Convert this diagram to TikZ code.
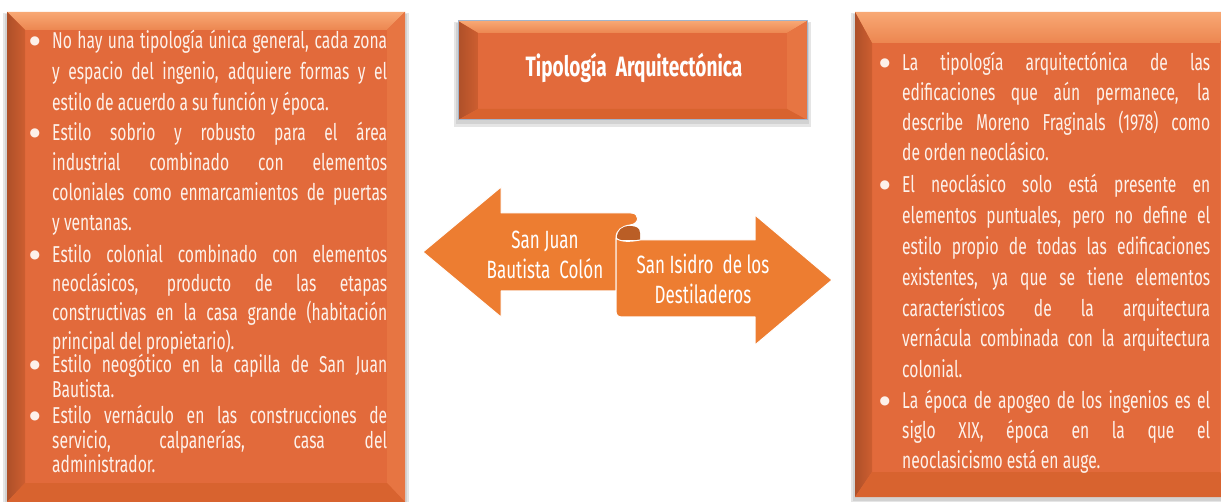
\documentclass[tikz,border=0pt]{standalone}
\usepackage{fontspec}
\setmainfont{Fira Sans}[FakeStretch=0.68]
\newfontfamily\bltfont{DejaVu Sans}
\usetikzlibrary{positioning}
\definecolor{boxface}{HTML}{E26A3B}
\definecolor{bevtop}{HTML}{EC8650}
\definecolor{bevtoplight}{HTML}{F8A874}
\definecolor{bevleft}{HTML}{CD5E30}
\definecolor{bevright}{HTML}{E77542}
\definecolor{bevbottom}{HTML}{D8632F}
\definecolor{boxtext}{HTML}{FDF1EA}
\definecolor{arroworange}{HTML}{ED7D31}
\definecolor{curldark}{HTML}{BA5E26}
\definecolor{edgeblue}{HTML}{A3B4CA}
\tolerance=10000
\hyphenpenalty=10000
\newcommand{\itm}{\noindent\llap{\raisebox{4pt}{\bltfont\fontsize{12}{12}\selectfont ●}\hspace{12pt}}}
% bevelled box: #1,#2 top left; #3,#4 bottom right; bevel widths left, top, right, bottom
\newcommand{\bevelbox}[8]{%
  \fill[black!40,opacity=.25] ({#1-4},{#2+1}) rectangle ({#3+4},{#4+7});
  \fill[black!40,opacity=.25] ({#1-2},{#2+2}) rectangle ({#3+2},{#4+4});
  \fill[boxface] (#1,#2) rectangle (#3,#4);
  \shade[top color=bevtoplight,bottom color=bevtop]
    (#1,#2) -- (#3,#2) -- ({#3-#7},{#2+#6}) -- ({#1+#5},{#2+#6}) -- cycle;
  \shade[left color=bevleft!85!black,right color=bevleft]
    (#1,#2) -- ({#1+#5},{#2+#6}) -- ({#1+#5},{#4-#8}) -- (#1,#4) -- cycle;
  \fill[bevright]
    (#3,#2) -- ({#3-#7},{#2+#6}) -- ({#3-#7},{#4-#8}) -- (#3,#4) -- cycle;
  \fill[bevbottom]
    (#1,#4) -- ({#1+#5},{#4-#8}) -- ({#3-#7},{#4-#8}) -- (#3,#4) -- cycle;
}
\tikzset{
  every picture/.append style={line cap=round,line join=round},
  list item/.style={text=boxtext,align=justify,inner sep=0pt,anchor=base west},
  arrow text/.style={text=white,align=center,inner sep=0pt,
    font=\fontsize{25}{30}\selectfont},
  title text/.style={text=white,inner sep=0pt,
    font=\fontsize{28}{30}\selectfont\bfseries},
  arrow shape/.style={fill=arroworange,draw=white,line width=1pt}
}
\begin{document}
\begin{tikzpicture}[x=1pt,y=-1pt]
  \useasboundingbox (0,0) rectangle (1221,502);

  % the three bevelled boxes
  \bevelbox{7}{12}{405}{502}{18}{18}{18}{19}
  \bevelbox{855}{12}{1232}{497}{17}{31}{12}{25}
  \bevelbox{458}{21}{807}{120}{20}{12}{20}{11}
  \draw[edgeblue,line width=1pt] (458,21) rectangle (807,120);

  \node[title text] (title) at (634,68) {Tipología\ \ Arquitectónica};

  % left box
  \node[list item,text width=335pt,font=\fontsize{23}{31}\selectfont] (l1) at (52,49)
    {\itm No hay una tipología única general, cada zona\linebreak
     y espacio del ingenio, adquiere formas y el\linebreak
     estilo de acuerdo a su función y época.};
  \node[list item,text width=335pt,font=\fontsize{23}{30}\selectfont] (l2) at (52,141)
    {\itm Estilo sobrio y robusto para el área\linebreak
     industrial combinado con elementos\linebreak
     coloniales como enmarcamientos de puertas\linebreak
     y ventanas.};
  \node[list item,text width=335pt,font=\fontsize{23}{29}\selectfont] (l3) at (52,263)
    {\itm Estilo colonial combinado con elementos\linebreak
     neoclásicos, producto de las etapas\linebreak
     constructivas en la casa grande (habitación\linebreak
     principal del propietario).};
  \node[list item,text width=335pt,font=\fontsize{23}{25}\selectfont] (l4) at (52,373)
    {\itm Estilo neogótico en la capilla de San Juan\linebreak
     Bautista.};
  \node[list item,text width=335pt,font=\fontsize{23}{24.5}\selectfont] (l5) at (52,424)
    {\itm Estilo vernáculo en las construcciones de\linebreak
     servicio, calpanerías, casa del\linebreak
     administrador.};

  % right box
  \node[list item,text width=308pt,font=\fontsize{23}{30}\selectfont] (r1) at (902,71)
    {\itm La tipología arquitectónica de las\linebreak
     edificaciones que aún permanece, la\linebreak
     describe Moreno Fraginals (1978) como\linebreak
     de orden neoclásico.};
  \node[list item,text width=308pt,font=\fontsize{23}{30.8}\selectfont] (r2) at (902,193)
    {\itm El neoclásico solo está presente en\linebreak
     elementos puntuales, pero no define el\linebreak
     estilo propio de todas las edificaciones\linebreak
     existentes, ya que se tiene elementos\linebreak
     característicos de la arquitectura\linebreak
     vernácula combinada con la arquitectura\linebreak
     colonial.};
  \node[list item,text width=308pt,font=\fontsize{23}{30}\selectfont] (r3) at (902,409)
    {\itm La época de apogeo de los ingenios es el\linebreak
     siglo XIX, época en la que el\linebreak
     neoclasicismo está en auge.};

  % the two arrows with the curl between them
  \path[arrow shape] (423,252) -- (501,187) -- (501,213) -- (631,213)
    .. controls (640,213) and (640,224) .. (630,225)
    .. controls (622,226) and (616,230) .. (616,238)
    -- (616,291) -- (501,291) -- (501,317) -- cycle;
  \fill[curldark] (617,238) .. controls (617,230) and (622,226) .. (630,226)
    .. controls (636,226) and (640,228) .. (640,233) -- (640,240) -- (617,240) -- cycle;
  \path[arrow shape] (616,238) -- (616,311) .. controls (616,315) and (618,317) .. (622,317)
    -- (755,317) -- (755,345) -- (832,280) -- (755,215) -- (755,240) -- (640,240)
    .. controls (630,242) and (620,242) .. (616,238) -- cycle;

  \node[arrow text] (sjb) at (545,255) {San Juan\\Bautista\ \ Colón};
  \node[arrow text] (sid) at (703,279) {San Isidro\ \ de los\\Destiladeros};
\end{tikzpicture}
\end{document}
